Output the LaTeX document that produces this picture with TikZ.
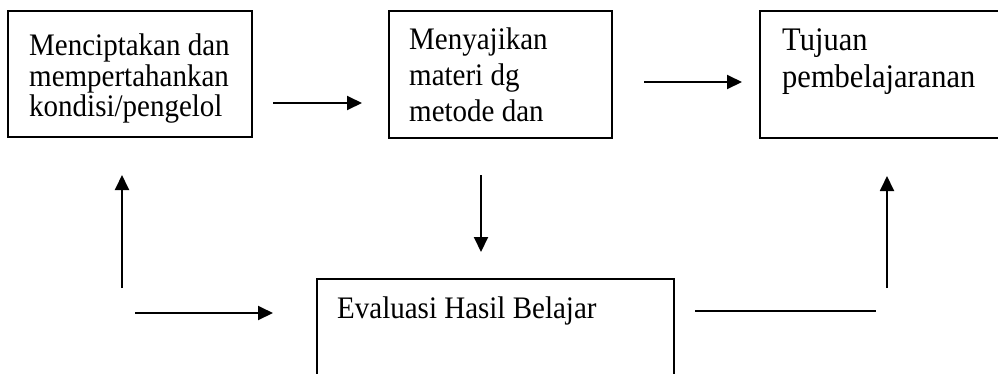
\documentclass[tikz,border=0pt]{standalone}
\usepackage{fontspec}
\usepackage{graphicx}
\setmainfont{Liberation Serif}
\usetikzlibrary{arrows.meta}
\newcommand{\tallpar}[2]{\scalebox{1}[1.08]{\parbox[t]{300pt}{\raggedright #1 #2}}}
\begin{document}
\begin{tikzpicture}[x=1pt,y=-1pt,
  boxnode/.style={draw, line width=1.9pt, inner sep=0pt, anchor=north west},
  txt/.style={inner sep=0pt, anchor=base west},
  arr/.style={line width=1.9pt, -{Triangle[length=15pt,width=14pt]}},
  plainline/.style={line width=1.9pt}]
\clip (0,0) rectangle (998,373);
\fill[white] (0,0) rectangle (998,373);
% boxes
\node[boxnode, minimum width=244pt, minimum height=126pt] (b1) at (7,10) {};
\node[boxnode, minimum width=223pt, minimum height=127pt] (b2) at (388,10) {};
\node[boxnode, minimum width=260pt, minimum height=127pt] (b3) at (759,10) {};
\node[boxnode, minimum width=357pt, minimum height=130pt] (b4) at (316,278) {};
% texts
\node[txt] (t1) at (29,55) {\tallpar{\fontsize{29}{28.7}\selectfont}{Menciptakan dan\\mempertahankan\\kondisi/pengelol}};
\node[txt] (t2) at (409,49.5) {\tallpar{\fontsize{29}{33.5}\selectfont}{Menyajikan\\materi dg\\metode dan}};
\node[txt] (t3) at (782,50) {\tallpar{\fontsize{30.5}{34.3}\selectfont}{Tujuan\\pembelajaranan}};
\node[txt] (t4) at (337,318) {\tallpar{\fontsize{29}{29}\selectfont}{Evaluasi Hasil Belajar}};
% connector end points
\coordinate (a1s) at (273,103); \coordinate (a1e) at (362,103);
\coordinate (a2s) at (644,82);  \coordinate (a2e) at (742,82);
\coordinate (a3s) at (481,175); \coordinate (a3e) at (481,252);
\coordinate (a4s) at (122,288); \coordinate (a4e) at (122,175);
\coordinate (a5s) at (135,313); \coordinate (a5e) at (273,313);
\coordinate (a6s) at (695,311); \coordinate (a6e) at (876,311);
\coordinate (a7s) at (887,288); \coordinate (a7e) at (887,176);
\draw[arr] (a1s) -- (a1e);
\draw[arr] (a2s) -- (a2e);
\draw[arr] (a3s) -- (a3e);
\draw[arr] (a4s) -- (a4e);
\draw[arr] (a5s) -- (a5e);
\draw[plainline] (a6s) -- (a6e);
\draw[arr] (a7s) -- (a7e);
\end{tikzpicture}
\end{document}
